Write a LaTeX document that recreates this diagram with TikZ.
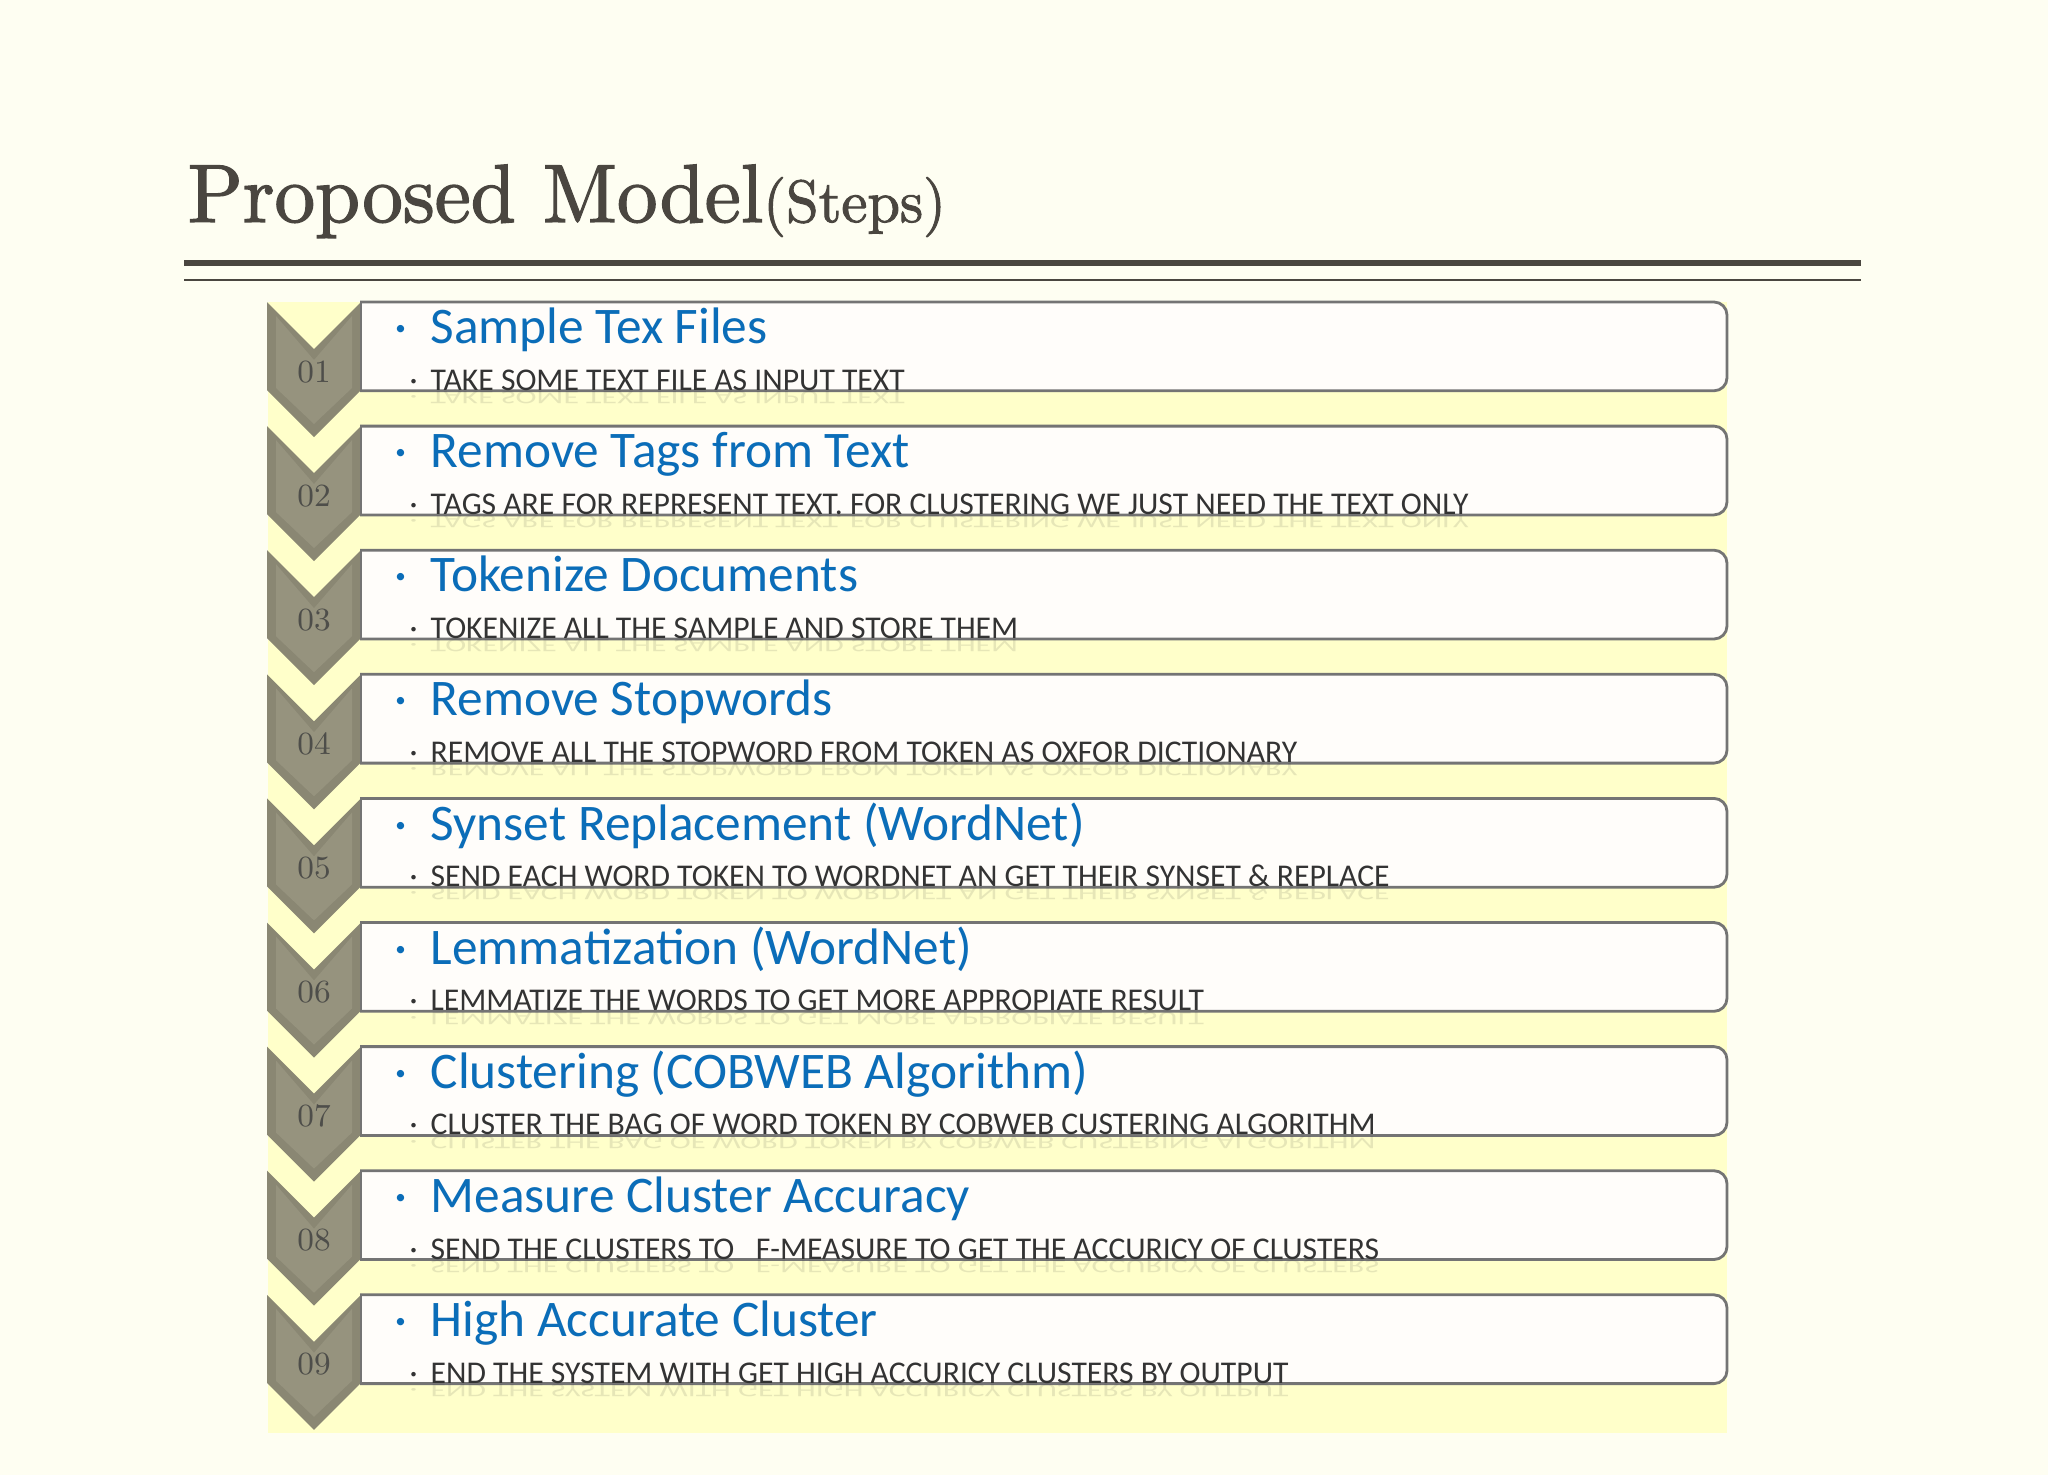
\documentclass[tikz,border=0pt]{standalone}
\usepackage{fontspec}
\newfontfamily\stepfont{Carlito}
\newfontfamily\titlefont[FakeBold=1.6, FakeStretch=0.98]{lmroman10-regular.otf}
\usepackage{xcolor}
\usetikzlibrary{calc}
\definecolor{pagebg}{HTML}{FEFEF2}
\definecolor{stripbg}{HTML}{FFFFCA}
\definecolor{chevgray}{HTML}{8A8773}
\definecolor{chevlight}{HTML}{96937E}
\definecolor{titlegray}{HTML}{4A4640}
\definecolor{headblue}{HTML}{0B6DB8}
\definecolor{subgray}{HTML}{333333}
\definecolor{numgray}{HTML}{4E4E4A}
\definecolor{boxline}{HTML}{747474}
\definecolor{boxfill}{HTML}{FFFDFA}
\tikzset{
	headtext/.style={anchor=base west, inner sep=0pt, text=headblue,
			font=\stepfont\fontsize{14.6}{16}\selectfont},
	subtext/.style={anchor=base west, inner sep=0pt, text=subgray,
			font=\stepfont\fontsize{9}{10}\selectfont},
	numtext/.style={anchor=base, inner sep=0pt, text=numgray,
			font=\fontsize{9.2}{10}\selectfont},
	stepbox/.style={draw=boxline, line width=0.8pt, fill=boxfill}
}

\begin{document}
\begin{tikzpicture}[x=0.01cm, y=-0.01cm]
        % Page background
        \fill[pagebg] (0,0) rectangle (2048,1475);
        \useasboundingbox (0,0) rectangle (2048,1475);

        % Title and rules
        \node[anchor=base west, inner sep=0pt, text=titlegray] (title) at (187,222)
            {\titlefont\fontsize{23.5}{26}\selectfont Proposed Model{\fontsize{17}{19}\selectfont(Steps)}};
        \fill[titlegray] (184,259.5) rectangle (1861,265.5);
        \fill[titlegray] (184,279.3) rectangle (1861,281.3);

        % Yellow strip behind the steps
        \fill[stripbg] (268,302) rectangle (1727,1433);

        % The nine steps
        \foreach \i/\head/\sub in {
            1/Sample Tex Files/TAKE SOME TEXT FILE AS INPUT TEXT,
            2/Remove Tags from Text/TAGS ARE FOR REPRESENT TEXT. FOR CLUSTERING WE JUST NEED THE TEXT ONLY,
            3/Tokenize Documents/TOKENIZE ALL THE SAMPLE AND STORE THEM,
            4/Remove Stopwords/REMOVE ALL THE STOPWORD FROM TOKEN AS OXFOR DICTIONARY,
            5/Synset Replacement (WordNet)/SEND EACH WORD TOKEN TO WORDNET AN GET THEIR SYNSET \& REPLACE,
            6/Lemmatization (WordNet)/LEMMATIZE THE WORDS TO GET MORE APPROPIATE RESULT,
            7/Clustering (COBWEB Algorithm)/CLUSTER THE BAG OF WORD TOKEN BY COBWEB CUSTERING ALGORITHM,
            8/Measure Cluster Accuracy/SEND THE CLUSTERS TO\ \ \ F-MEASURE TO GET THE ACCURICY OF CLUSTERS,
            9/High Accurate Cluster/END THE SYSTEM WITH GET HIGH ACCURICY CLUSTERS BY OUTPUT} {
            \pgfmathsetmacro\yt{302+124.1*(\i-1)}

            % Chevron
            \fill[chevgray] (267,\yt) -- (314,\yt+47) -- (361,\yt) -- (361,\yt+88)
                -- (314,\yt+135) -- (267,\yt+88) -- cycle;
            \fill[chevlight] (276,\yt+14) -- (314,\yt+58) -- (352,\yt+14) -- (352,\yt+86)
                -- (314,\yt+122) -- (276,\yt+86) -- cycle;
            \node[numtext] (num\i) at (314,\yt+80) {0\i};

            % Box, square on the left and rounded on the right
            \begin{scope}
                \clip (360,\yt-5) rectangle (1740,\yt+95);
                \draw[stepbox, rounded corners=0.13cm] (330,\yt) rectangle (1727,\yt+88.8);
            \end{scope}
            \draw[boxline, line width=0.8pt] (361,\yt) -- (361,\yt+88.8);

            % Texts
            \node[headtext] (head\i) at (394,\yt+41.6) {\makebox[0.36cm][l]{·}\head};
            \node[subtext] (sub\i) at (409,\yt+88.3) {\makebox[0.21cm][l]{·}\sub};
            \node[subtext, yscale=-0.6, opacity=0.12] (mirror\i) at (409,\yt+89.5)
                {\makebox[0.21cm][l]{·}\sub};
        }
\end{tikzpicture}
\end{document}
